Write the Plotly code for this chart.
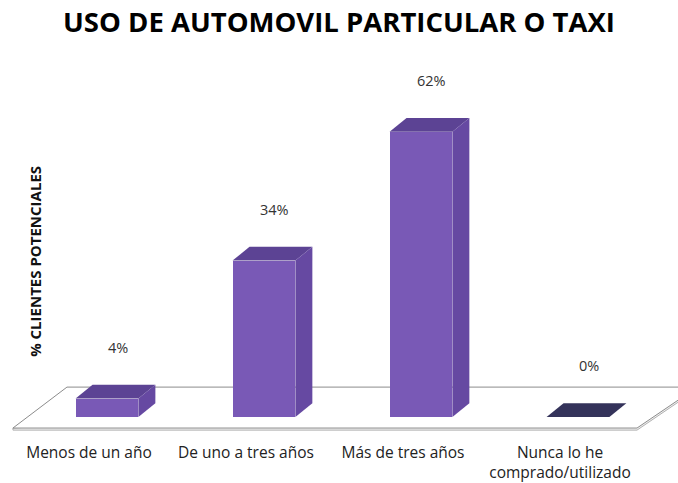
import plotly.graph_objects as go

# Datos
categorias = ["Menos de un año", "De uno a tres años", "Más de tres años",
              "Nunca lo he<br>comprado/utilizado"]
porcentajes = [4, 34, 62, 0]
etiquetas = [f"{v}%" for v in porcentajes]

titulo = "USO DE AUTOMOVIL PARTICULAR O TAXI"
titulo_eje_y = "% CLIENTES POTENCIALES"

# Estilo
COLOR_FRENTE = "#7959B6"
COLOR_TECHO = "#5C4394"
COLOR_LADO = "#6649A2"
COLOR_CERO = "#34335A"
FUENTE = "Open Sans"

W, H = 678, 483
ANCHO = 0.40          # ancho de la cara frontal (unidades de categoría)
DX, DY = 0.108, 3.0   # desplazamiento de profundidad (perspectiva)

pos = list(range(len(categorias)))

fig = go.Figure()

# Cara frontal de cada barra
fig.add_trace(go.Bar(
    x=pos, y=porcentajes, width=ANCHO,
    marker=dict(color=COLOR_FRENTE, line=dict(width=0)),
    hoverinfo="skip", showlegend=False,
))

# Caras superior y lateral para dar profundidad
for i, v in zip(pos, porcentajes):
    x0, x1 = i - ANCHO / 2, i + ANCHO / 2
    techo_color = COLOR_CERO if v == 0 else COLOR_TECHO
    fig.add_trace(go.Scatter(
        x=[x0, x0 + DX, x1 + DX, x1, x0],
        y=[v, v + DY, v + DY, v, v],
        mode="lines", fill="toself", fillcolor=techo_color,
        line=dict(width=0, color=techo_color),
        hoverinfo="skip", showlegend=False,
    ))
    if v > 0:
        fig.add_trace(go.Scatter(
            x=[x1, x1, x1 + DX, x1 + DX, x1],
            y=[0, v, v + DY, DY, 0],
            mode="lines", fill="toself", fillcolor=COLOR_LADO,
            line=dict(width=0, color=COLOR_LADO),
            hoverinfo="skip", showlegend=False,
        ))
        # sombra suave a la derecha de la base
        fig.add_shape(
            type="path",
            path=(f"M {x1},{0} L {x1 + DX},{DY} L {x1 + DX + 0.16},{DY} "
                  f"L {x1 + 0.12},{-0.6} Z"),
            xref="x", yref="y", layer="below",
            fillcolor="rgba(150,150,150,0.35)", line=dict(width=0),
        )

# Piso en perspectiva (con un leve grosor en el borde frontal)
fig.add_shape(
    type="path",
    path="M -0.599,-2.4 L -0.599,-2.85 L 3.376,-2.85 L 3.76,6.05 L 3.76,6.5 Z",
    xref="x", yref="y", layer="below",
    fillcolor="#f2f2f2", line=dict(color="#b0b0b0", width=1),
)
fig.add_shape(
    type="path",
    path="M -0.599,-2.4 L -0.255,6.5 L 3.76,6.5 L 3.376,-2.4 Z",
    xref="x", yref="y", layer="below",
    fillcolor="white", line=dict(color="#8c8c8c", width=1),
)

# Etiquetas de valor
for i, v, t in zip(pos, porcentajes, etiquetas):
    fig.add_annotation(
        x=i + 0.07, y=v + 11.2, text=t, showarrow=False,
        font=dict(family=FUENTE, size=14.5, color="#333333"),
        xanchor="center", yanchor="middle",
    )

# Título del eje Y
fig.add_annotation(
    xref="paper", yref="paper", x=35 / W, y=0.466,
    text=f"<b>{titulo_eje_y}</b>", textangle=-90, showarrow=False,
    font=dict(family=FUENTE, size=15, color="#111111"),
    xanchor="center", yanchor="middle",
)

fig.update_layout(
    width=W, height=H,
    margin=dict(l=0, r=0, t=60, b=H - 438),
    paper_bgcolor="white", plot_bgcolor="white",
    title=dict(
        text=f"<b>{titulo}</b>", x=0.5, xanchor="center",
        y=1 - 22 / H, yref="container", yanchor="middle",
        font=dict(family=FUENTE, size=27.5, color="#000000"),
    ),
    bargap=0,
    xaxis=dict(
        range=[-0.6815, 3.637], tickmode="array", tickvals=pos,
        ticktext=categorias, ticklabelshift=-18, ticklabelstandoff=3,
        showgrid=False, zeroline=False, showline=False, ticks="",
        tickfont=dict(family=FUENTE, size=15.5, color="#222222"),
    ),
    yaxis=dict(
        range=[-4.565, 77.61], visible=False, showgrid=False, zeroline=False,
    ),
)

fig.write_html("out.html")
